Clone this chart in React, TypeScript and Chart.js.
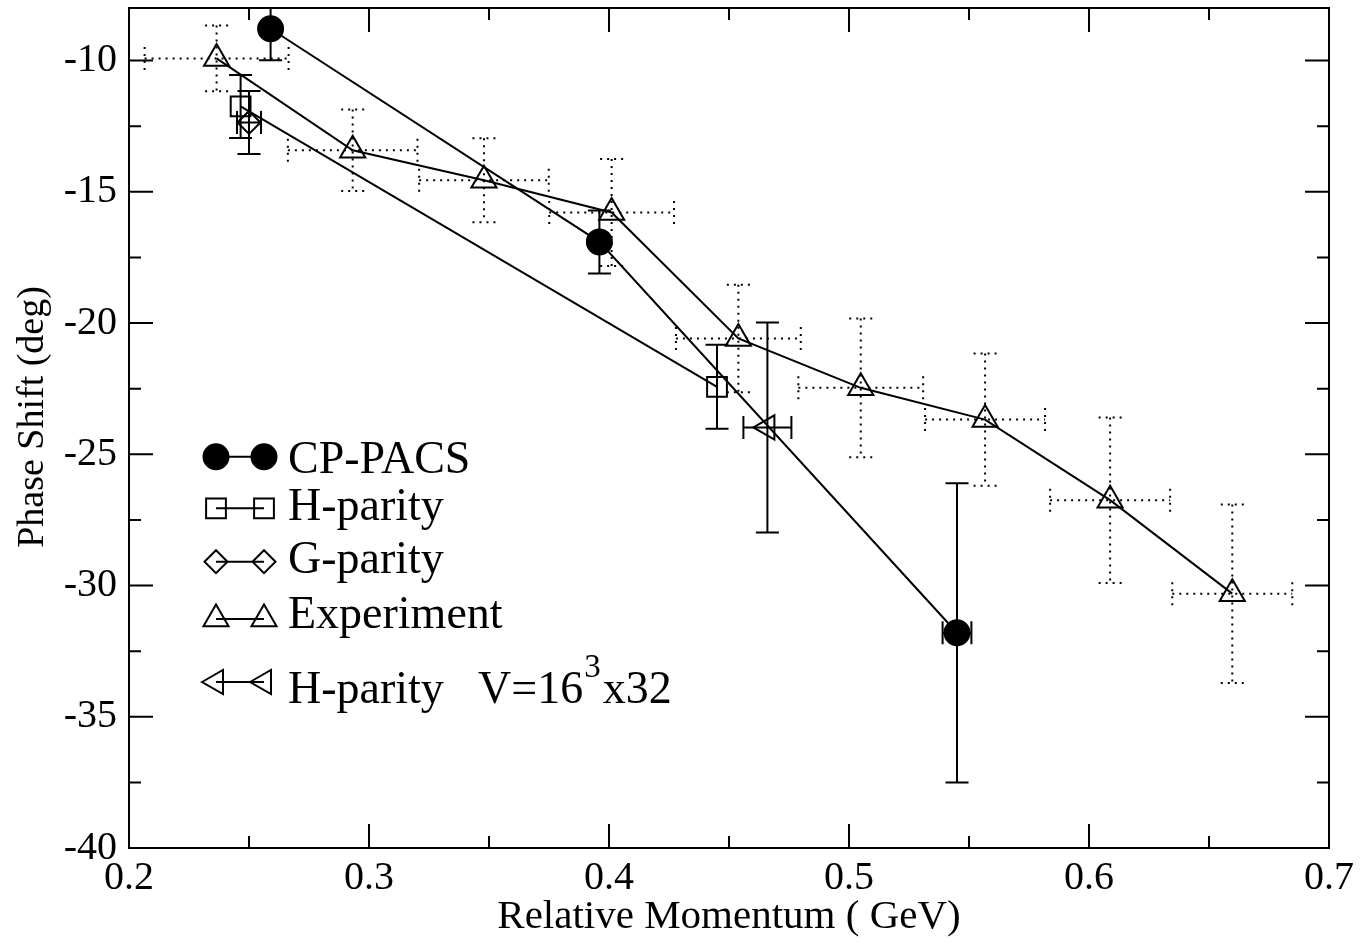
import React, { useEffect, useRef } from "react";
import { Chart, registerables } from "chart.js";

Chart.register(...registerables);

// ---------- data ----------
const cpX = [0.259, 0.396, 0.545];
const cpY = [-8.79, -16.91, -31.8];
const cpXErr = [0, 0, 0.006];
const cpYErr = [1.2, 1.2, 5.7];

const hX = [0.2465, 0.445];
const hY = [-11.75, -22.43];
const hXErr = [0, 0];
const hYErr = [1.2, 1.6];

const gX = [0.25];
const gY = [-12.36];
const gXErr = [0.005];
const gYErr = [1.2];

const expX = [0.2365, 0.2932, 0.3479, 0.4011, 0.4539, 0.5049, 0.5567, 0.6088, 0.6597];
const expY = [-9.92, -13.42, -14.56, -15.79, -20.59, -22.47, -23.68, -26.75, -30.31];
const expXErr = [0.03, 0.027, 0.027, 0.026, 0.026, 0.026, 0.025, 0.025, 0.025];
const expYErr = [1.25, 1.55, 1.6, 2.04, 2.05, 2.64, 2.52, 3.15, 3.4];

const hvX = [0.466];
const hvY = [-23.98];
const hvXErr = [0.01];
const hvYErr = [4.0];

const xTicks = [0.2, 0.3, 0.4, 0.5, 0.6, 0.7];
const xMinorTicks = [0.25, 0.35, 0.45, 0.55, 0.65];
const yTicks = [-40, -35, -30, -25, -20, -15, -10];
const yMinorTicks = [-37.5, -32.5, -27.5, -22.5, -17.5, -12.5];

const seriesLabels = ["CP-PACS", "H-parity", "G-parity", "Experiment", "H-parity"];
const hvLabelParts = ["V=16", "3", "x32"];
const xTitle = "Relative Momentum ( GeV)";
const yTitle = "Phase Shift (deg)";

const FONT = "'Liberation Serif', 'Times New Roman', serif";

type Series = {
  label: string;
  xs: number[];
  ys: number[];
  xErr: number[];
  yErr: number[];
  style: string;
  radius: number;
  rotation: number;
  filled: boolean;
  dotted: boolean;
};

const series: Series[] = [
  { label: seriesLabels[0], xs: cpX, ys: cpY, xErr: cpXErr, yErr: cpYErr, style: "circle", radius: 12.5, rotation: 0, filled: true, dotted: false },
  { label: seriesLabels[1], xs: hX, ys: hY, xErr: hXErr, yErr: hYErr, style: "rect", radius: 14, rotation: 0, filled: false, dotted: false },
  { label: seriesLabels[2], xs: gX, ys: gY, xErr: gXErr, yErr: gYErr, style: "rectRot", radius: 11.5, rotation: 0, filled: false, dotted: false },
  { label: seriesLabels[3], xs: expX, ys: expY, xErr: expXErr, yErr: expYErr, style: "triangle", radius: 14.5, rotation: 0, filled: false, dotted: true },
  { label: seriesLabels[4], xs: hvX, ys: hvY, xErr: hvXErr, yErr: hvYErr, style: "triangle", radius: 14, rotation: -90, filled: false, dotted: false },
];

function drawMarker(ctx: CanvasRenderingContext2D, s: Series, x: number, y: number) {
  const r = s.radius;
  ctx.save();
  ctx.beginPath();
  if (s.style === "circle") {
    ctx.arc(x, y, r, 0, Math.PI * 2);
  } else if (s.style === "rect") {
    const h = Math.SQRT1_2 * r;
    ctx.rect(x - h, y - h, 2 * h, 2 * h);
  } else if (s.style === "rectRot") {
    ctx.moveTo(x - r, y);
    ctx.lineTo(x, y - r);
    ctx.lineTo(x + r, y);
    ctx.lineTo(x, y + r);
    ctx.closePath();
  } else if (s.style === "triangle") {
    let rad = (s.rotation * Math.PI) / 180;
    ctx.moveTo(x + Math.sin(rad) * r, y - Math.cos(rad) * r);
    rad += (2 * Math.PI) / 3;
    ctx.lineTo(x + Math.sin(rad) * r, y - Math.cos(rad) * r);
    rad += (2 * Math.PI) / 3;
    ctx.lineTo(x + Math.sin(rad) * r, y - Math.cos(rad) * r);
    ctx.closePath();
  }
  ctx.lineWidth = 2;
  ctx.strokeStyle = "#000";
  if (s.filled) {
    ctx.fillStyle = "#000";
    ctx.fill();
  }
  ctx.stroke();
  ctx.restore();
}

const errorBarPlugin = {
  id: "errorBars",
  beforeDatasetsDraw(chart: any) {
    const { ctx, chartArea, scales } = chart;
    const xs = scales.x;
    const ys = scales.y;
    const cap = 11.5;
    ctx.save();
    ctx.beginPath();
    ctx.rect(chartArea.left, chartArea.top, chartArea.right - chartArea.left, chartArea.bottom - chartArea.top);
    ctx.clip();
    ctx.strokeStyle = "#000";
    ctx.lineWidth = 2;
    series.forEach((s) => {
      ctx.setLineDash(s.dotted ? [2, 5] : []);
      s.xs.forEach((xv, i) => {
        const px = xs.getPixelForValue(xv);
        const py = ys.getPixelForValue(s.ys[i]);
        const ye = s.yErr[i];
        if (ye > 0) {
          const top = ys.getPixelForValue(s.ys[i] + ye);
          const bot = ys.getPixelForValue(s.ys[i] - ye);
          ctx.beginPath();
          ctx.moveTo(px, top);
          ctx.lineTo(px, bot);
          ctx.moveTo(px - cap, top);
          ctx.lineTo(px + cap, top);
          ctx.moveTo(px - cap, bot);
          ctx.lineTo(px + cap, bot);
          ctx.stroke();
        }
        const xe = s.xErr[i];
        if (xe > 0) {
          const l = xs.getPixelForValue(xv - xe);
          const r = xs.getPixelForValue(xv + xe);
          ctx.beginPath();
          ctx.moveTo(l, py);
          ctx.lineTo(r, py);
          ctx.moveTo(l, py - cap);
          ctx.lineTo(l, py + cap);
          ctx.moveTo(r, py - cap);
          ctx.lineTo(r, py + cap);
          ctx.stroke();
        }
      });
    });
    ctx.restore();
  },
};

const framePlugin = {
  id: "frame",
  afterDraw(chart: any) {
    const { ctx, chartArea, scales } = chart;
    const { left, right, top, bottom } = chartArea;
    ctx.save();
    ctx.strokeStyle = "#000";
    ctx.lineWidth = 2;
    ctx.setLineDash([]);
    ctx.strokeRect(left, top, right - left, bottom - top);
    ctx.beginPath();
    const major = 24;
    const minor = 12;
    xTicks.forEach((v) => {
      const p = scales.x.getPixelForValue(v);
      ctx.moveTo(p, bottom);
      ctx.lineTo(p, bottom - major);
      ctx.moveTo(p, top);
      ctx.lineTo(p, top + major);
    });
    xMinorTicks.forEach((v) => {
      const p = scales.x.getPixelForValue(v);
      ctx.moveTo(p, bottom);
      ctx.lineTo(p, bottom - minor);
      ctx.moveTo(p, top);
      ctx.lineTo(p, top + minor);
    });
    yTicks.forEach((v) => {
      const p = scales.y.getPixelForValue(v);
      ctx.moveTo(left, p);
      ctx.lineTo(left + major, p);
      ctx.moveTo(right, p);
      ctx.lineTo(right - major, p);
    });
    yMinorTicks.forEach((v) => {
      const p = scales.y.getPixelForValue(v);
      ctx.moveTo(left, p);
      ctx.lineTo(left + minor, p);
      ctx.moveTo(right, p);
      ctx.lineTo(right - minor, p);
    });
    ctx.stroke();

    // y axis title
    ctx.save();
    ctx.fillStyle = "#000";
    ctx.font = `38px ${FONT}`;
    ctx.textAlign = "center";
    ctx.textBaseline = "middle";
    ctx.translate(33, (top + bottom) / 2 - 11);
    ctx.rotate(-Math.PI / 2);
    ctx.fillText(yTitle, 0, 0);
    ctx.restore();

    // legend
    const m1 = left + 87;
    const m2 = left + 135;
    const tx = left + 159;
    const rowLine = [456.7, 508.3, 561.7, 619, 682];
    const rowBase = [473, 520, 573, 628, 703];
    ctx.fillStyle = "#000";
    ctx.textBaseline = "alphabetic";
    ctx.textAlign = "left";
    series.forEach((s, i) => {
      const ly = rowLine[i];
      ctx.beginPath();
      ctx.moveTo(m1, ly);
      ctx.lineTo(m2, ly);
      ctx.stroke();
      drawMarker(ctx, s, m1, ly);
      drawMarker(ctx, s, m2, ly);
      ctx.font = `46px ${FONT}`;
      ctx.fillText(s.label, tx, rowBase[i]);
      if (i === 4) {
        let x = left + 349;
        ctx.fillText(hvLabelParts[0], x, rowBase[i]);
        x += ctx.measureText(hvLabelParts[0]).width + 1;
        ctx.font = `33px ${FONT}`;
        ctx.fillText(hvLabelParts[1], x, rowBase[i] - 26);
        x += ctx.measureText(hvLabelParts[1]).width + 2;
        ctx.font = `46px ${FONT}`;
        ctx.fillText(hvLabelParts[2], x, rowBase[i]);
      }
    });
    ctx.restore();
  },
};

export default function App() {
  const ref = useRef<HTMLCanvasElement | null>(null);
  useEffect(() => {
    if (!ref.current) return;
    const datasets = series.map((s) => ({
      label: s.label,
      data: s.xs.map((x, i) => ({ x, y: s.ys[i] })),
      showLine: true,
      borderColor: "#000",
      borderWidth: 2,
      pointStyle: s.style,
      pointRadius: s.radius,
      pointRotation: s.rotation,
      pointBorderWidth: 2,
      pointBorderColor: "#000",
      pointBackgroundColor: s.filled ? "#000" : "rgba(0,0,0,0)",
      tension: 0,
      fill: false,
    }));
    const chart = new Chart(ref.current, {
      type: "line",
      data: { datasets },
      plugins: [errorBarPlugin, framePlugin],
      options: {
        responsive: false,
        animation: false,
        events: [],
        layout: { autoPadding: false, padding: { top: 8, right: 43, left: 0, bottom: 0 } },
        plugins: { legend: { display: false }, tooltip: { enabled: false } },
        scales: {
          x: {
            type: "linear",
            min: 0.2,
            max: 0.7,
            grid: { display: false, drawTicks: false },
            border: { display: false },
            afterBuildTicks: (s: any) => {
              s.ticks = xTicks.map((v) => ({ value: v }));
            },
            afterFit: (s: any) => {
              s.height = 94;
              s.paddingLeft = 0;
              s.paddingRight = 0;
              s.paddingTop = 0;
              s.paddingBottom = 0;
            },
            ticks: {
              font: { family: FONT, size: 40 },
              color: "#000",
              padding: 6,
              maxRotation: 0,
              autoSkip: false,
              callback: (v: any) => Number(v).toFixed(1),
            },
            title: {
              display: true,
              text: xTitle,
              font: { family: FONT, size: 41 },
              color: "#000",
              padding: { top: 0, bottom: 0 },
            },
          },
          y: {
            type: "linear",
            min: -40,
            max: -8,
            grid: { display: false, drawTicks: false },
            border: { display: false },
            afterBuildTicks: (s: any) => {
              s.ticks = yTicks.map((v) => ({ value: v }));
            },
            afterFit: (s: any) => {
              s.width = 129;
              s.paddingLeft = 0;
              s.paddingRight = 0;
              s.paddingTop = 0;
              s.paddingBottom = 0;
            },
            ticks: {
              font: { family: FONT, size: 40 },
              color: "#000",
              padding: 12,
              autoSkip: false,
              callback: (v: any) => String(v),
            },
            title: { display: false },
          },
        },
      } as any,
    });
    return () => chart.destroy();
  }, []);
  return (
    <div style={{ position: "absolute", left: 0, top: 0, width: 1372, height: 942, background: "#fff" }}>
      <canvas ref={ref} width={1372} height={942} />
    </div>
  );
}
